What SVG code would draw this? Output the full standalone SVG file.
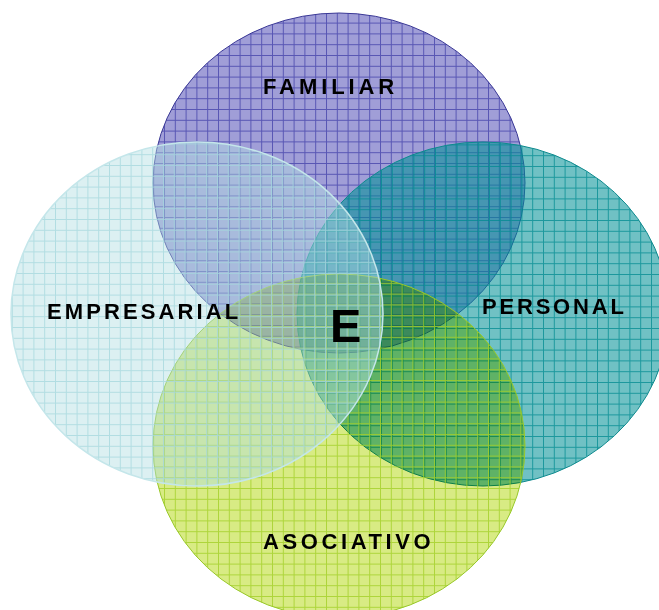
<svg xmlns="http://www.w3.org/2000/svg" width="659" height="610" viewBox="0 0 659 610">
  <defs>
    <!-- grid-paper fills, one per set -->
    <pattern id="grid-familiar" patternUnits="userSpaceOnUse" width="10.8" height="10.8" x="2" y="1">
      <rect width="10.8" height="10.8" fill="#a09ed7"/>
      <path d="M0.5 0V10.8M0 0.5H10.8" stroke="#5856b4" stroke-width="1"/>
    </pattern>
    <pattern id="grid-personal" patternUnits="userSpaceOnUse" width="10.8" height="10.8" x="3" y="4">
      <rect width="10.8" height="10.8" fill="#009096" fill-opacity="0.56"/>
      <path d="M0.5 0V10.8M0 0.5H10.8" stroke="#008a90" stroke-opacity="0.75" stroke-width="1"/>
    </pattern>
    <!-- green set: tint multiplied onto what lies below, grid lines laid over it -->
    <pattern id="lines-asociativo" patternUnits="userSpaceOnUse" width="10.8" height="10.8" x="2" y="2">
      <path d="M0.5 0V10.8M0 0.5H10.8" stroke="#a2cf28" stroke-opacity="0.8" stroke-width="1"/>
    </pattern>
    <pattern id="grid-empresarial" patternUnits="userSpaceOnUse" width="10.8" height="10.8" x="1" y="3">
      <rect width="10.8" height="10.8" fill="#b2dee3" fill-opacity="0.45"/>
      <path d="M0.5 0V10.8M0 0.5H10.8" stroke="#a4d6dc" stroke-opacity="0.75" stroke-width="1"/>
    </pattern>
  </defs>
  <style>
    .label { font-family: "Liberation Sans", Arial, sans-serif; font-weight: bold; font-size: 22px; fill: #000; }
    .center { font-family: "Liberation Sans", Arial, sans-serif; font-weight: bold; font-size: 47px; fill: #000; }
  </style>

  <rect width="659" height="610" fill="#ffffff"/>

  <g id="familiar">
    <ellipse cx="339" cy="183" rx="186" ry="170" fill="url(#grid-familiar)" stroke="#3a3896" stroke-width="1"/>
  </g>
  <g id="personal">
    <ellipse cx="483" cy="314" rx="186" ry="172" fill="url(#grid-personal)" stroke="#0e8a8e" stroke-width="1"/>
  </g>
  <g id="asociativo">
    <ellipse cx="339" cy="446" rx="186" ry="172" fill="#d8eb84" style="mix-blend-mode:multiply"/>
    <ellipse cx="339" cy="446" rx="186" ry="172" fill="url(#lines-asociativo)" stroke="#98c828" stroke-width="1"/>
  </g>
  <g id="empresarial">
    <ellipse cx="197" cy="314" rx="186" ry="172" fill="url(#grid-empresarial)" stroke="#c4e6ea" stroke-width="1.5"/>
  </g>

  <g id="labels">
    <text class="label" x="263" y="94" letter-spacing="3.9">FAMILIAR</text>
    <text class="label" x="47" y="319" letter-spacing="3.1">EMPRESARIAL</text>
    <text class="label" x="482" y="314" letter-spacing="2.8">PERSONAL</text>
    <text class="label" x="263" y="549" letter-spacing="3.6">ASOCIATIVO</text>
    <text class="center" x="330" y="342">E</text>
  </g>
</svg>
